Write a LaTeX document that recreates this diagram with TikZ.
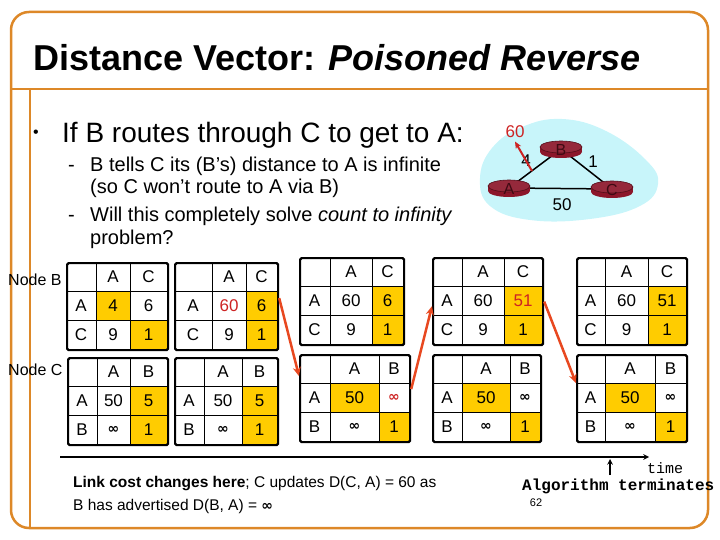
\documentclass[tikz,border=0pt]{standalone}
\usepackage{fontspec}
\setmainfont{Liberation Sans}
\setmonofont{Liberation Mono}
\newfontfamily\symfont{DejaVu Sans}
\usetikzlibrary{positioning,arrows.meta}

\definecolor{frameorange}{RGB}{221,136,40}
\definecolor{cellgold}{RGB}{255,204,0}
\definecolor{poisonred}{RGB}{205,35,35}
\definecolor{arrowred}{RGB}{232,72,32}
\definecolor{cloudcyan}{RGB}{200,245,250}
\definecolor{routerred}{RGB}{140,22,42}

\newcommand{\inftext}{{\symfont\bfseries\fontsize{14}{14}\selectfont ∞}}

\tikzset{
  tbl/.style={draw, line width=2.2pt, rounded corners=1.5pt, minimum height=87pt, inner sep=0pt},
  cell/.style={font=\fontsize{17}{17}\selectfont, inner sep=0pt},
  msg/.style={-{Stealth[length=9pt,width=8pt]}, arrowred, line width=2.5pt},
  router/.pic={
    \fill[routerred] (-21,-2) rectangle (21,3);
    \fill[routerred] (0,3) ellipse (21 and 6);
    \filldraw[fill=routerred!92!white, draw=routerred!60!black, line width=0.6pt] (0,-2) ellipse (21 and 6);
  }
}

% one routing table: name, column borders, top edge, second node, gold cells, entries
\newcommand{\dvtable}[9]{%
  \foreach \ri/\ci in {#8}{
    \pgfmathsetmacro\xa{\ci==1 ? #3 : #4}
    \pgfmathsetmacro\xb{\ci==1 ? #4 : #5}
    \fill[cellgold] (\xa,#6+29*\ri) rectangle (\xb,#6+29*\ri+29);
  }
  \draw[line width=0.9pt] (#3,#6) -- (#3,#6+87) (#4,#6) -- (#4,#6+87)
    (#2,#6+29) -- (#5,#6+29) (#2,#6+58) -- (#5,#6+58);
  \node[tbl, minimum width={(#5-#2)*1pt}, anchor=north west] (#1) at (#2,#6) {};
  % headers
  \node[cell] (#1-h1) at ({(#3+#4)/2},#6+14.5) {A};
  \node[cell] (#1-h2) at ({(#4+#5)/2},#6+14.5) {#7};
  \node[cell] (#1-r1) at ({(#2+#3)/2},#6+43.5) {A};
  \node[cell] (#1-r2) at ({(#2+#3)/2},#6+72.5) {#7};
  % entries
  \foreach \ri/\ci/\v/\tc in {#9}{
    \pgfmathsetmacro\xc{\ci==1 ? (#3+#4)/2 : (#4+#5)/2}
    \node[cell, text=\tc] (#1-\ri\ci) at (\xc,#6+29*\ri+14.5) {\v};
  }
}

\begin{document}
\begin{tikzpicture}[x=1pt, y=-1pt, >=stealth]
  \useasboundingbox (0,0) rectangle (720,540);
  % Slide frame
  \draw[frameorange, line width=2.5pt, rounded corners=18pt] (11,12) rectangle (708,528);
  \draw[frameorange, line width=2.5pt] (11,89) -- (708,89);
  \draw[frameorange, line width=2.5pt] (30,89) -- (30,528);
  % Title
  \node[anchor=base west, font=\fontsize{36}{36}\selectfont\bfseries, inner sep=0pt] (title) at (33,71)
    {Distance Vector: \textit{Poisoned Reverse}};
  % Bullets
  \node[font=\fontsize{16}{16}\selectfont, inner sep=0pt] (dot) at (36,134) {•};
  \node[anchor=base west, font=\fontsize{28}{28}\selectfont, inner sep=0pt] (bul) at (62,143)
    {If B routes through C to get to A:};
  \node[anchor=base west, font=\fontsize{20}{20}\selectfont, inner sep=0pt] (dash1) at (68,172) {-};
  \node[anchor=base west, font=\fontsize{20}{20}\selectfont, inner sep=0pt] (sub1) at (90,172)
    {B tells C its (B’s) distance to A is infinite};
  \node[anchor=base west, font=\fontsize{20}{20}\selectfont, inner sep=0pt] (sub1b) at (90,194)
    {(so C won’t route to A via B)};
  \node[anchor=base west, font=\fontsize{20}{20}\selectfont, inner sep=0pt] (dash2) at (68,222) {-};
  \node[anchor=base west, font=\fontsize{20}{20}\selectfont, inner sep=0pt] (sub2) at (90,222)
    {Will this completely solve \textit{count to infinity}};
  \node[anchor=base west, font=\fontsize{20}{20}\selectfont, inner sep=0pt] (sub2b) at (90,244)
    {problem?};

  % Network
  \fill[cloudcyan] plot[smooth cycle, tension=0.7] coordinates
    {(480,178) (492,148) (522,127) (562,119) (606,131) (646,160) (658,184) (640,206) (590,219) (530,220) (490,206)};
  \coordinate (rA) at (509,188);
  \coordinate (rB) at (561,149);
  \coordinate (rC) at (612,189);
  \draw[line width=1.5pt] (rA) -- (rB) -- (rC) -- (rA);
  \foreach \r in {rA,rB,rC}{
    \pic at (\r) {router};
  }
  \node[font=\fontsize{16}{16}\selectfont, text=routerred!45!black] (lA) at ([yshift=-1pt]rA) {A};
  \node[font=\fontsize{16}{16}\selectfont, text=routerred!45!black] (lB) at ([yshift=-1pt]rB) {B};
  \node[font=\fontsize{16}{16}\selectfont, text=routerred!45!black] (lC) at ([yshift=-1pt]rC) {C};
  \node[font=\fontsize{17}{17}\selectfont] (w4) at (526,161) {4};
  \node[font=\fontsize{17}{17}\selectfont] (w1) at (593,162) {1};
  \node[font=\fontsize{17}{17}\selectfont] (w50) at (562,205) {50};
  \node[font=\fontsize{17}{17}\selectfont, text=poisonred] (w60) at (515,132) {60};
  \coordinate (cut) at (532,171);
  \draw[-{Stealth[length=7pt,width=6pt]}, poisonred, line width=2pt] (cut) -- (w60.south);

  % Node labels
  \node[anchor=base west, font=\fontsize{16}{16}\selectfont, inner sep=0pt] (nodeB) at (8,285) {Node B};
  \node[anchor=base west, font=\fontsize{16}{16}\selectfont, inner sep=0pt] (nodeC) at (8,375) {Node C};

  % Tables of node B
  \dvtable{b1}{66}{96}{130}{167}{262}{C}{1/1,2/2}{1/1/4/black,1/2/6/black,2/1/9/black,2/2/1/black}
  \dvtable{b2}{174}{212}{246}{277}{262}{C}{1/2,2/2}{1/1/60/poisonred,1/2/6/black,2/1/9/black,2/2/1/black}
  \dvtable{b3}{299}{330}{372}{403}{257}{C}{1/2,2/2}{1/1/60/black,1/2/6/black,2/1/9/black,2/2/1/black}
  \dvtable{b4}{432}{462}{504}{542}{257}{C}{1/2,2/2}{1/1/60/black,1/2/51/poisonred,2/1/9/black,2/2/1/black}
  \dvtable{b5}{576}{605}{648}{686}{257}{C}{1/2,2/2}{1/1/60/black,1/2/51/black,2/1/9/black,2/2/1/black}
  % Tables of node C
  \dvtable{c1}{67}{97}{130}{167}{357}{B}{1/2,2/2}{1/1/50/black,1/2/5/black,2/1/\inftext/black,2/2/1/black}
  \dvtable{c2}{174}{204}{242}{277}{357}{B}{1/2,2/2}{1/1/50/black,1/2/5/black,2/1/\inftext/black,2/2/1/black}
  \dvtable{c3}{299}{330}{379}{409}{354}{B}{1/1,2/2}{1/1/50/black,1/2/\inftext/poisonred,2/1/\inftext/black,2/2/1/black}
  \dvtable{c4}{432}{462}{510}{540}{354}{B}{1/1,2/2}{1/1/50/black,1/2/\inftext/black,2/1/\inftext/black,2/2/1/black}
  \dvtable{c5}{576}{605}{655}{686}{354}{B}{1/1,2/2}{1/1/50/black,1/2/\inftext/black,2/1/\inftext/black,2/2/1/black}

  % Messages between the nodes
  \draw[msg] ([yshift=8.5pt]b2.east) -- ([yshift=22.5pt]c3.west);
  \draw[msg] ([yshift=9.5pt]c3.east) -- ([yshift=-4.5pt]b4.west);
  \draw[msg] (b4.east) -- ([yshift=15.5pt]c5.west);

  % Time line
  \coordinate (t0) at (60,457);
  \coordinate (t1) at (649,457);
  \draw[->, line width=1.5pt] (t0) -- (t1);
  \node[anchor=base west, font=\ttfamily\fontsize{15}{15}\selectfont, inner sep=0pt] (time) at (647,473) {time};
  \node[anchor=base west, font=\ttfamily\bfseries\fontsize{16}{16}\selectfont, inner sep=0pt] (term) at (522,490)
    {Algorithm terminates};
  \coordinate (up0) at (610,475);
  \coordinate (up1) at (610,459);
  \draw[->, line width=1.5pt] (up0) -- (up1);
  \node[font=\fontsize{11}{11}\selectfont] (pg) at (536,503) {62};

  % Note below
  \node[anchor=base west, font=\fontsize{15.5}{15.5}\selectfont, inner sep=0pt] (note1) at (73,487)
    {\textbf{Link cost changes here}; C updates D(C, A) = 60 as};
  \node[anchor=base west, font=\fontsize{15.5}{15.5}\selectfont, inner sep=0pt] (note2) at (73,510)
    {B has advertised D(B, A) = \inftext};
\end{tikzpicture}
\end{document}
